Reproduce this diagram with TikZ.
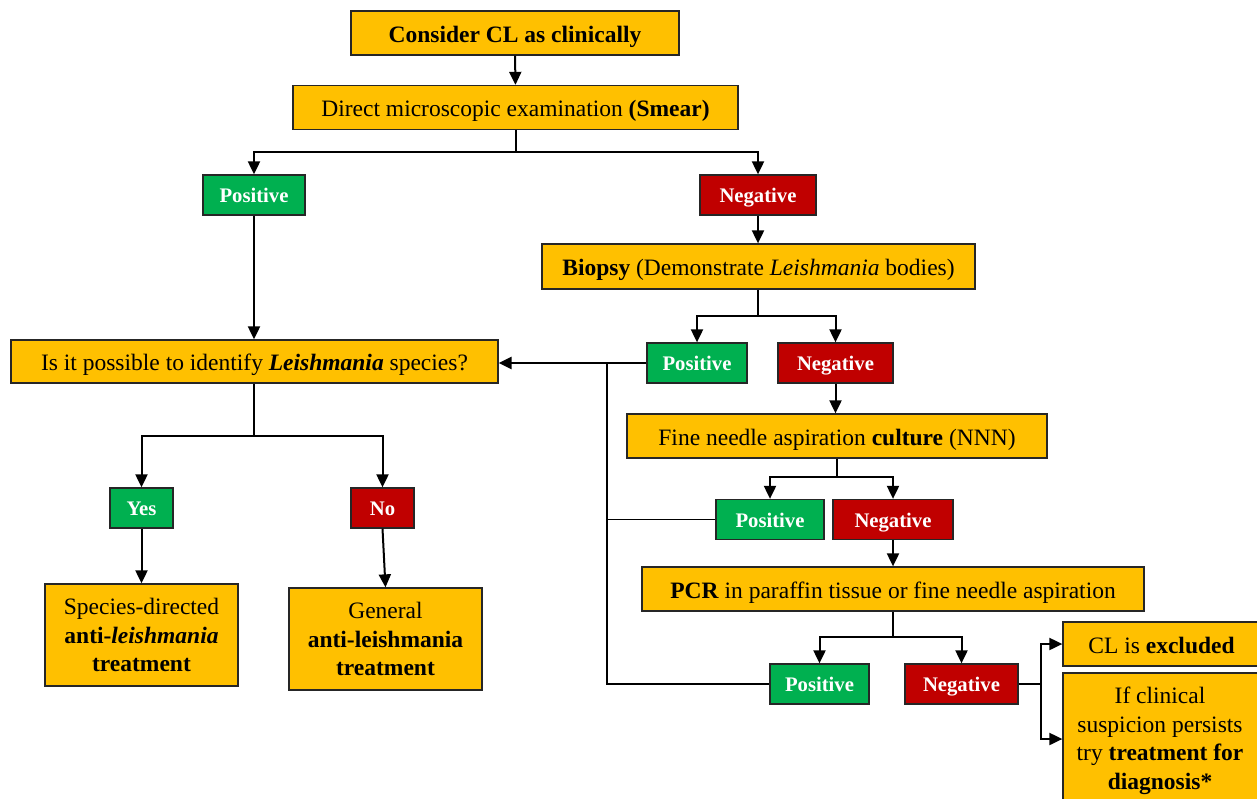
\documentclass[tikz,border=0pt]{standalone}
\usepackage{fontspec}
\setmainfont{Liberation Serif}
\usetikzlibrary{arrows.meta}
\definecolor{orng}{HTML}{FFC000}
\definecolor{grn}{HTML}{00B050}
\definecolor{rd}{HTML}{C00000}
\begin{document}
\begin{tikzpicture}[x=1pt,y=-1pt,
 box/.style={draw=black!85, line width=1.3pt, fill=orng, inner sep=0pt, align=center,
   font=\fontsize{23.5}{28.5}\selectfont},
 one/.style={box, text height=18pt, text depth=0pt},
 posbox/.style={box, fill=grn, text=white, font=\fontsize{20.7}{24}\selectfont\bfseries, text height=15.4pt, text depth=0pt},
 negbox/.style={posbox, fill=rd},
 conn/.style={line width=2pt, line join=miter},
 arr/.style={conn, -{Triangle[length=13pt,width=12pt]}},
 thickarr/.style={line width=2.8pt, -{Triangle[length=13pt,width=12pt]}}
]
\useasboundingbox (0,0) rectangle (1257,798);

% boxes (centre, size)
\node[one, font=\fontsize{23.5}{28.5}\selectfont\bfseries, minimum width=328, minimum height=44] (cons) at (515,33) {Consider CL as clinically};
\node[one, minimum width=445, minimum height=44] (direct) at (515.5,107.5) {Direct microscopic examination \textbf{(Smear)}};
\node[posbox, minimum width=102, minimum height=40] (pos1) at (254,195) {Positive};
\node[negbox, minimum width=116, minimum height=40] (neg1) at (758,195) {Negative};
\node[one, minimum width=433, minimum height=45] (biopsy) at (758.5,266.5) {\textbf{Biopsy} (Demonstrate \textit{Leishmania} bodies)};
\node[one, minimum width=487, minimum height=43] (isit) at (254.5,361.5) {Is it possible to identify \textbf{\textit{Leishmania}} species?};
\node[posbox, minimum width=100, minimum height=40] (pos2) at (697,363) {Positive};
\node[negbox, minimum width=115, minimum height=40] (neg2) at (835.5,363) {Negative};
\node[one, minimum width=420, minimum height=44] (fine) at (837,436) {Fine needle aspiration \textbf{culture} (NNN)};
\node[posbox, minimum width=108, minimum height=40] (pos3) at (770,519.5) {Positive};
\node[negbox, minimum width=120, minimum height=40] (neg3) at (893,519.5) {Negative};
\node[one, minimum width=502, minimum height=44] (pcr) at (893,589) {\textbf{PCR} in paraffin tissue or fine needle aspiration};
\node[posbox, minimum width=99, minimum height=40] (pos4) at (819.5,684) {Positive};
\node[negbox, minimum width=113, minimum height=40] (neg4) at (961.5,684) {Negative};
\node[one, minimum width=197, minimum height=44] (excl) at (1161.5,644) {CL is \textbf{excluded}};
\node[box, minimum width=197, minimum height=132] (ifcl) at (1161.5,739) {};
\node[font=\fontsize{23.5}{28.5}\selectfont, align=center, inner sep=0pt] (ifcltext) at (1160,741) {If clinical\\suspicion persists\\try \textbf{treatment for}\\\textbf{diagnosis*}};
\node[posbox, minimum width=63, minimum height=40] (yes) at (141.5,508) {Yes};
\node[negbox, minimum width=63, minimum height=40] (no) at (382.5,508) {No};
\node[box, minimum width=193, minimum height=102] (spec) at (141.5,635) {Species-directed\\\textbf{anti-\textit{leishmania}}\\\textbf{treatment}};
\node[box, minimum width=193, minimum height=102] (gen) at (385.5,639) {General\\\textbf{anti-leishmania}\\\textbf{treatment}};

% connectors
\draw[arr] (cons.south) -- (direct.north);

\coordinate (j1) at (516,152);
\draw[conn] (j1 |- direct.south) -- (j1);
\draw[arr] (j1) -| (pos1.north);
\draw[arr] (j1) -| (neg1.north);

\draw[arr] (pos1.south) -- (isit.north -| pos1.south);
\draw[arr] (neg1.south) -- (biopsy.north -| neg1.south);

\coordinate (j2) at (758,316);
\draw[conn] (j2 |- biopsy.south) -- (j2);
\draw[arr] (j2) -| (pos2.north);
\draw[arr] (j2) -| (neg2.north);

\coordinate (v) at (607,363);
\draw[conn, line width=1.8pt] (pos2.west) -- (v);
\draw[thickarr] (v) -- (v -| isit.east);
\draw[conn, line width=1.8pt] (v) |- (pos4.west);
\draw[conn, line width=1.8pt] (v |- pos3.west) -- (pos3.west);

\draw[arr] (neg2.south) -- (fine.north -| neg2.south);

\coordinate (j3) at (837,477);
\draw[conn] (fine.south) -- (j3);
\draw[arr] (j3) -| (pos3.north);
\draw[arr] (j3) -| (neg3.north);

\draw[arr] (neg3.south) -- (pcr.north -| neg3.south);

\coordinate (j4) at (893,637);
\draw[conn] (pcr.south) -- (j4);
\draw[arr] (j4) -| (pos4.north);
\draw[arr] (j4) -| (neg4.north);

\coordinate (k) at (1041,684);
\draw[conn] (neg4.east) -- (k);
\draw[arr] (k) |- (excl.west);
\draw[arr] (k) |- (ifcl.west);

\coordinate (j5) at (254,436);
\draw[conn] (j5 |- isit.south) -- (j5);
\draw[arr] (j5) -| (yes.north);
\draw[arr] (j5) -| (no.north);

\draw[arr] (yes.south) -- (spec.north -| yes.south);
\draw[arr] (no.south) -- (gen.north);
\end{tikzpicture}
\end{document}
